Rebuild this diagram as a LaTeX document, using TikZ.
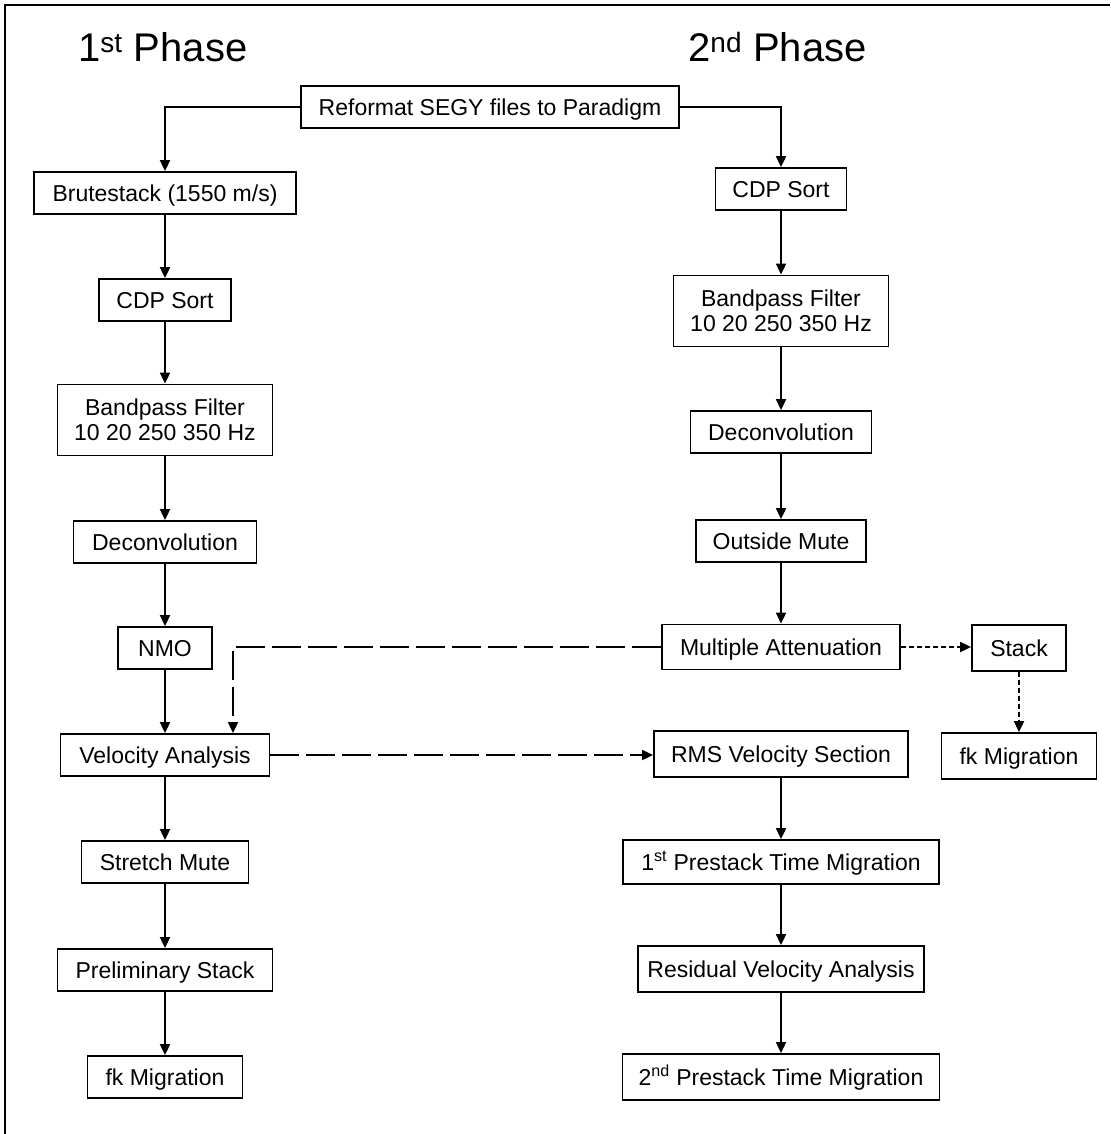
\documentclass[tikz,border=0pt]{standalone}
\usepackage{fontspec}
\setmainfont{Liberation Sans}
\usetikzlibrary{arrows.meta}
\begin{document}
\begin{tikzpicture}[x=1pt,y=-1pt,
 boxbase/.style={draw, line width=1.8pt, inner sep=0pt, minimum height=42pt, font=\fontsize{23}{25}\selectfont, align=center},
 box/.style={boxbase, text height=19pt, text depth=2.5pt},
 box2/.style={boxbase, minimum height=71pt},
 arr/.style={line width=1.8pt, -{Triangle[length=11pt,width=10pt]}},
 longdash/.style={arr, dash pattern=on 29pt off 7pt},
 shortdash/.style={arr, dash pattern=on 5pt off 3pt},
 head/.style={font=\fontsize{40}{44}\selectfont, anchor=base west, inner sep=0pt}]
\useasboundingbox (0,0) rectangle (1110,1134);
\draw[line width=1.8pt] (5,1134) -- (5,5) -- (1110,5);
\node[head] (h1) at (78,62) {1\textsuperscript{st} Phase};
\node[head] (h2) at (688,62) {2\textsuperscript{nd} Phase};
% top
\node[box, minimum width=378pt] (ref) at (490,107) {Reformat SEGY files to Paradigm};
% left column
\node[box, minimum width=262pt] (brute) at (165,193) {Brutestack (1550 m/s)};
\node[box, minimum width=132pt] (cdpL) at (165,300) {CDP Sort};
\node[box2, minimum width=215pt] (bpL) at (165,420) {Bandpass Filter\\10 20 250 350 Hz};
\node[box, minimum width=183pt] (decL) at (165,542) {Deconvolution};
\node[box, minimum width=94pt] (nmo) at (165,648) {NMO};
\node[box, minimum width=209pt] (va) at (165,755) {Velocity Analysis};
\node[box, minimum width=167pt] (sm) at (165,862) {Stretch Mute};
\node[box, minimum width=215pt] (ps) at (165,970) {Preliminary Stack};
\node[box, minimum width=155pt] (fkL) at (165,1077) {fk Migration};
% right column
\node[box, minimum width=131pt] (cdpR) at (781,189) {CDP Sort};
\node[box2, minimum width=215pt] (bpR) at (781,311) {Bandpass Filter\\10 20 250 350 Hz};
\node[box, minimum width=181pt] (decR) at (781,432) {Deconvolution};
\node[box, minimum width=170pt] (om) at (781,541) {Outside Mute};
\node[box, minimum width=238pt, minimum height=45pt] (ma) at (781,647) {Multiple Attenuation};
\node[box, minimum width=94pt, minimum height=46pt] (st) at (1019,648) {Stack};
\node[box, minimum width=155pt, minimum height=46pt] (fkR) at (1019,756) {fk Migration};
\node[box, minimum width=254pt, minimum height=46pt] (rms) at (781,754) {RMS Velocity Section};
\node[box, minimum width=316pt, minimum height=44pt] (p1) at (781,862) {1\textsuperscript{st} Prestack Time Migration};
\node[box, minimum width=286pt, minimum height=46pt] (rva) at (781,969) {Residual Velocity Analysis};
\node[box, minimum width=317pt, minimum height=46pt] (p2) at (781,1077) {2\textsuperscript{nd} Prestack Time Migration};
% connectors
\draw[arr] (ref.west) -| (brute.north);
\draw[arr] (ref.east) -| (cdpR.north);
\draw[arr] (brute) -- (cdpL);
\draw[arr] (cdpL) -- (bpL);
\draw[arr] (bpL) -- (decL);
\draw[arr] (decL) -- (nmo);
\draw[arr] (nmo) -- (va);
\draw[arr] (va) -- (sm);
\draw[arr] (sm) -- (ps);
\draw[arr] (ps) -- (fkL);
\draw[arr] (cdpR) -- (bpR);
\draw[arr] (bpR) -- (decR);
\draw[arr] (decR) -- (om);
\draw[arr] (om) -- (ma);
\draw[arr] (rms) -- (p1);
\draw[arr] (p1) -- (rva);
\draw[arr] (rva) -- (p2);
\draw[longdash] (ma.west) -| ([xshift=68pt]va.north);
\draw[longdash] (va.east) -- (va.east -| rms.west);
\draw[shortdash] (ma.east) -- (ma.east -| st.west);
\draw[shortdash] (st.south) -- (fkR.north);
\end{tikzpicture}
\end{document}
